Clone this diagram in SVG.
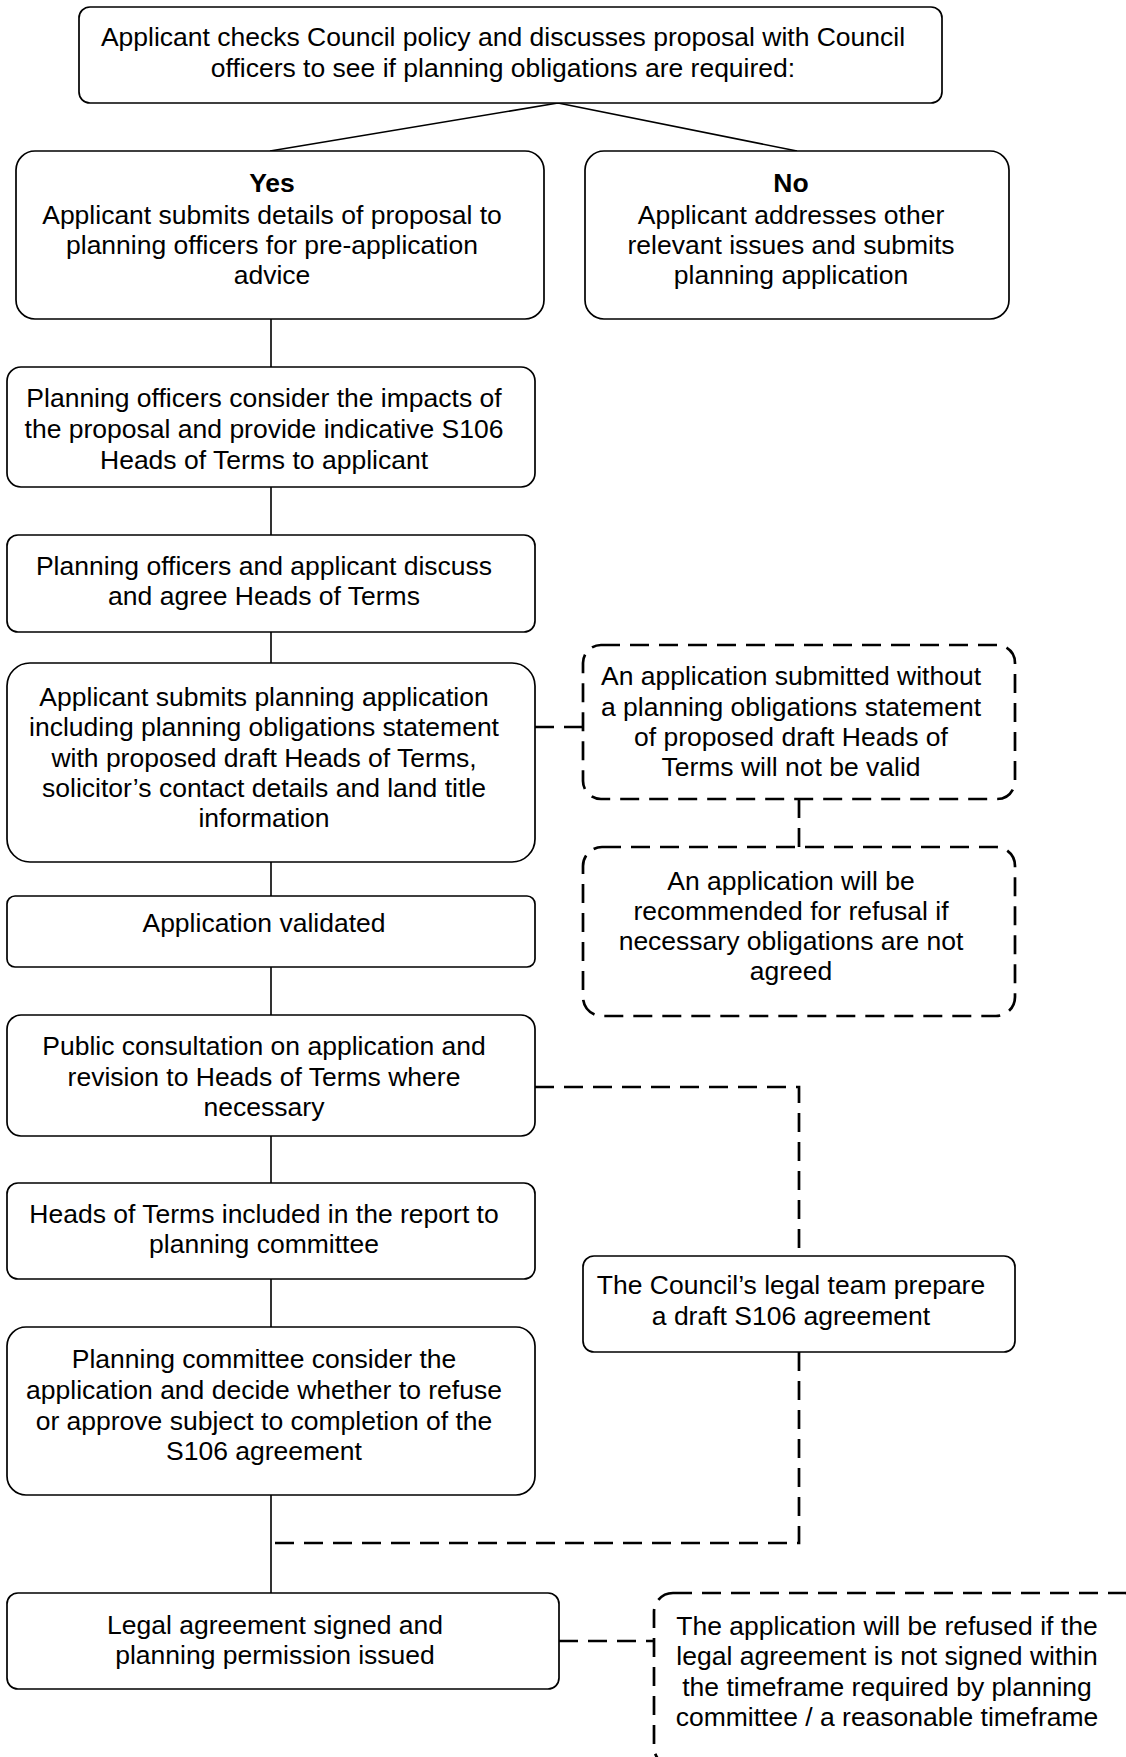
<svg xmlns="http://www.w3.org/2000/svg" width="1126" height="1757" viewBox="0 0 1126 1757">
<style>
.box{fill:#fff;stroke:#000;stroke-width:1.7}
.dbox{fill:#fff;stroke:#000;stroke-width:2.7;stroke-dasharray:19 10}
.ln{fill:none;stroke:#000;stroke-width:1.6}
.dl{fill:none;stroke:#000;stroke-width:2.7;stroke-dasharray:19 10}
text{font-family:"Liberation Sans",Arial,sans-serif;font-size:26.5px;fill:#000;text-anchor:middle}
.b{font-weight:bold}
</style>
<rect width="1126" height="1757" fill="#fff"/>
<g id="connectors">
<path class="ln" d="M558,103 L270,151 M558,103 L797,151"/>
<path class="ln" d="M271,319 V367 M271,487 V535 M271,632 V663 M271,862 V896 M271,967 V1015 M271,1136 V1183 M271,1279 V1327 M271,1495 V1593"/>
<path class="dl" d="M535,727 H583"/>
<path class="dl" d="M799,799 V847"/>
<path class="dl" d="M535,1087 H799 V1256"/>
<path class="dl" d="M799,1352 V1543 H271"/>
<path class="dl" d="M559,1641 H654"/>
</g>
<g id="n-top">
<rect class="box" x="79" y="7" width="863" height="96" rx="11"/>
<text x="503" y="46">Applicant checks Council policy and discusses proposal with Council</text>
<text x="503" y="77">officers to see if planning obligations are required:</text>
</g>
<g id="n-yes">
<rect class="box" x="16" y="151" width="528" height="168" rx="19"/>
<text class="b" x="272" y="192">Yes</text>
<text x="272" y="224">Applicant submits details of proposal to</text>
<text x="272" y="254">planning officers for pre-application</text>
<text x="272" y="284">advice</text>
</g>
<g id="n-no">
<rect class="box" x="585" y="151" width="424" height="168" rx="19"/>
<text class="b" x="791" y="192">No</text>
<text x="791" y="224">Applicant addresses other</text>
<text x="791" y="254">relevant issues and submits</text>
<text x="791" y="284">planning application</text>
</g>
<g id="n-consider">
<rect class="box" x="7" y="367" width="528" height="120" rx="14"/>
<text x="264" y="407">Planning officers consider the impacts of</text>
<text x="264" y="438">the proposal and provide indicative S106</text>
<text x="264" y="469">Heads of Terms to applicant</text>
</g>
<g id="n-discuss">
<rect class="box" x="7" y="535" width="528" height="97" rx="11"/>
<text x="264" y="575">Planning officers and applicant discuss</text>
<text x="264" y="605">and agree Heads of Terms</text>
</g>
<g id="n-submits">
<rect class="box" x="7" y="663" width="528" height="199" rx="23"/>
<text x="264" y="706">Applicant submits planning application</text>
<text x="264" y="736">including planning obligations statement</text>
<text x="264" y="767">with proposed draft Heads of Terms,</text>
<text x="264" y="797">solicitor’s contact details and land title</text>
<text x="264" y="827">information</text>
</g>
<g id="n-validated">
<rect class="box" x="7" y="896" width="528" height="71" rx="8"/>
<text x="264" y="932">Application validated</text>
</g>
<g id="n-public">
<rect class="box" x="7" y="1015" width="528" height="121" rx="14"/>
<text x="264" y="1055">Public consultation on application and</text>
<text x="264" y="1086">revision to Heads of Terms where</text>
<text x="264" y="1116">necessary</text>
</g>
<g id="n-hot">
<rect class="box" x="7" y="1183" width="528" height="96" rx="11"/>
<text x="264" y="1223">Heads of Terms included in the report to</text>
<text x="264" y="1253">planning committee</text>
</g>
<g id="n-committee">
<rect class="box" x="7" y="1327" width="528" height="168" rx="19"/>
<text x="264" y="1368">Planning committee consider the</text>
<text x="264" y="1399">application and decide whether to refuse</text>
<text x="264" y="1430">or approve subject to completion of the</text>
<text x="264" y="1460">S106 agreement</text>
</g>
<g id="n-signed">
<rect class="box" x="7" y="1593" width="552" height="96" rx="11"/>
<text x="275" y="1634">Legal agreement signed and</text>
<text x="275" y="1664">planning permission issued</text>
</g>
<g id="n-invalid">
<rect class="dbox" x="583" y="645" width="432" height="154" rx="18"/>
<text x="791" y="685">An application submitted without</text>
<text x="791" y="716">a planning obligations statement</text>
<text x="791" y="746">of proposed draft Heads of</text>
<text x="791" y="776">Terms will not be valid</text>
</g>
<g id="n-refusal">
<rect class="dbox" x="583" y="847" width="432" height="169" rx="19"/>
<text x="791" y="890">An application will be</text>
<text x="791" y="920">recommended for refusal if</text>
<text x="791" y="950">necessary obligations are not</text>
<text x="791" y="980">agreed</text>
</g>
<g id="n-legal">
<rect class="box" x="583" y="1256" width="432" height="96" rx="11"/>
<text x="791" y="1294">The Council’s legal team prepare</text>
<text x="791" y="1325">a draft S106 agreement</text>
</g>
<g id="n-timeframe">
<rect class="dbox" x="654" y="1593" width="490" height="173" rx="19"/>
<text x="887" y="1635">The application will be refused if the</text>
<text x="887" y="1665">legal agreement is not signed within</text>
<text x="887" y="1696">the timeframe required by planning</text>
<text x="887" y="1726">committee / a reasonable timeframe</text>
</g>
</svg>
